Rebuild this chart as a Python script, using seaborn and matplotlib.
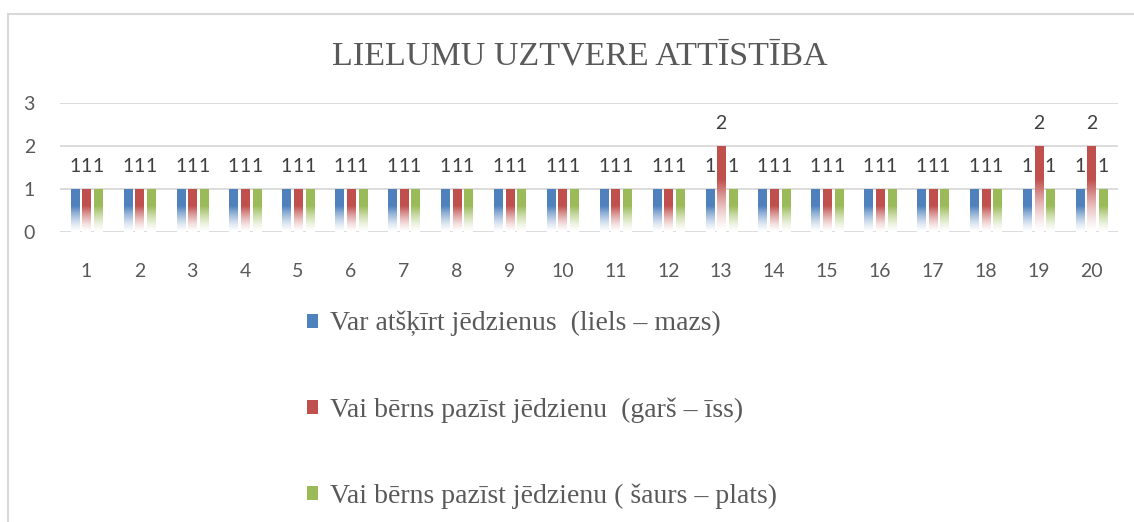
import matplotlib

matplotlib.use("Agg")
import matplotlib.pyplot as plt
import numpy as np
import pandas as pd
import seaborn as sns
from matplotlib.colors import LinearSegmentedColormap
from matplotlib.lines import Line2D
from matplotlib.patches import Rectangle

# data
CATEGORIES = [str(i) for i in range(1, 21)]
SERIES_NAMES = [
    "Var atšķīrt jēdzienus  (liels – mazs)",
    "Vai bērns pazīst jēdzienu  (garš – īss)",
    "Vai bērns pazīst jēdzienu ( šaurs – plats)",
]
LIELS_MAZS = [1] * 20
GARS_ISS = [1, 1, 1, 1, 1, 1, 1, 1, 1, 1, 1, 1, 2, 1, 1, 1, 1, 1, 2, 2]
SAURS_PLATS = [1] * 20
Y_TICKS = [0, 1, 2, 3]

COLORS = ["#4F81BD", "#C0504D", "#9BBB59"]
TEXT_GREY = "#595959"
GRID_GREY = "#D9D9D9"


def main() -> None:
    df = pd.DataFrame(
        {
            "kategorija": CATEGORIES * 3,
            "vertiba": LIELS_MAZS + GARS_ISS + SAURS_PLATS,
            "serija": [s for s in SERIES_NAMES for _ in CATEGORIES],
        }
    )

    sns.set_theme(style="white")
    plt.rcParams["font.family"] = ["Lato", "DejaVu Sans"]

    fig = plt.figure(figsize=(11.34, 5.22), dpi=100)
    ax = fig.add_axes([60 / 1134, 290 / 522, 1058 / 1134, 129 / 522])

    sns.barplot(
        data=df, x="kategorija", y="vertiba", hue="serija",
        hue_order=SERIES_NAMES, palette=COLORS, width=0.66, gap=0.3,
        ax=ax, legend=False, errorbar=None, saturation=1,
    )

    ax.set_ylim(0, 3)
    ax.set_xlim(-0.5, len(CATEGORIES) - 0.5)
    ax.set_yticks(Y_TICKS)
    ax.set_xlabel("")
    ax.set_ylabel("")
    ax.grid(axis="y", color=GRID_GREY, linewidth=1.3)
    ax.set_axisbelow(True)
    sns.despine(ax=ax, left=True, bottom=True)
    ax.tick_params(axis="x", length=0, pad=22, labelsize=14, labelcolor=TEXT_GREY)
    ax.tick_params(axis="y", length=0, pad=18, labelsize=14, labelcolor=TEXT_GREY)

    # gradient fill: full colour at the top, fading to white at the base
    ramp = np.linspace(0, 1, 256) ** 1.4
    for container, color in zip(ax.containers, COLORS):
        cmap = LinearSegmentedColormap.from_list("fade", ["#FFFFFF", color, color])
        for bar in container:
            x0, y0 = bar.get_x(), bar.get_y()
            w, h = bar.get_width(), bar.get_height()
            img = ax.imshow(
                ramp[::-1].reshape(-1, 1), cmap=cmap, aspect="auto",
                extent=[x0, x0 + w, y0, y0 + h], origin="upper", zorder=2,
                vmin=0, vmax=1,
            )
            img.set_clip_path(bar)
            bar.set_facecolor("none")
            bar.set_edgecolor("none")
        ax.bar_label(container, fmt="%g", padding=10, fontsize=14, color="#404040")

    ax.set_xlim(-0.5, len(CATEGORIES) - 0.5)
    ax.set_ylim(0, 3)

    fig.text(
        0.511, 1 - 56 / 522, "LIELUMU UZTVERE ATTĪSTĪBA",
        ha="center", va="center", fontsize=24.5, color=TEXT_GREY,
        family=["Liberation Serif", "DejaVu Serif"],
    )

    handles = [Rectangle((0, 0), 1, 1, facecolor=c, edgecolor="none") for c in COLORS]
    fig.legend(
        handles, SERIES_NAMES, loc="upper left",
        bbox_to_anchor=(307 / 1134, 1 - 311 / 522), frameon=False,
        borderpad=0, borderaxespad=0, labelspacing=2.18,
        handlelength=0.4, handleheight=0.4, handletextpad=0.42,
        prop={"family": ["Liberation Serif", "DejaVu Serif"], "size": 20},
        labelcolor=TEXT_GREY,
    )

    # chart frame (left and top edges visible in the reference)
    fx = 8 / 1134
    fy = 1 - 14 / 522
    fig.add_artist(Line2D([fx, fx], [0, fy], color=GRID_GREY, linewidth=1.5, transform=fig.transFigure))
    fig.add_artist(Line2D([fx, 1], [fy, fy], color=GRID_GREY, linewidth=1.5, transform=fig.transFigure))

    fig.savefig("out.png", dpi=100)
    plt.close(fig)


if __name__ == "__main__":
    main()
